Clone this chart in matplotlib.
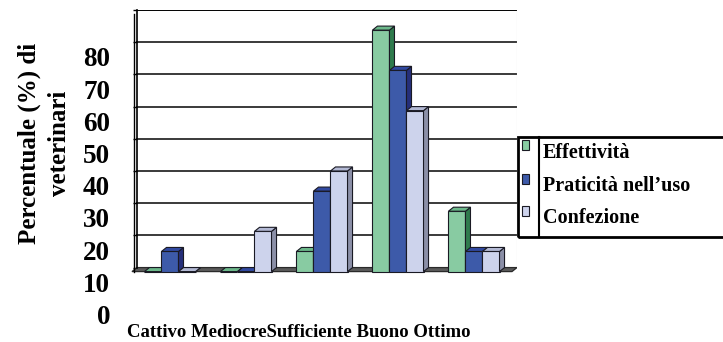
import matplotlib
matplotlib.use('Agg')
import matplotlib.pyplot as plt
from matplotlib.patches import Polygon, Rectangle
from matplotlib.lines import Line2D
from matplotlib.transforms import ScaledTranslation

# ---- data ----
categories = ['Cattivo', 'Mediocre', 'Sufficiente', 'Buono', 'Ottimo']
category_separators = [' ', '', ' ', ' ']   # as printed under the chart
series_names = ['Effettività', 'Praticità nell’uso', 'Confezione']
effettivita = [0, 0, 6.25, 75, 18.75]
praticita = [6.25, 0, 25, 62.5, 6.25]
confezione = [0, 12.5, 31.25, 50, 6.25]
y_ticks = [0, 10, 20, 30, 40, 50, 60, 70, 80]
y_label = 'Percentuale (%) di\nveterinari'

# ---- style ----
plt.rcParams['font.family'] = ['Liberation Serif', 'DejaVu Serif']
plt.rcParams['font.weight'] = 'bold'

W, H = 723, 342
fig = plt.figure(figsize=(W / 100, H / 100), dpi=100)
ax = fig.add_axes([129.4 / W, (H - 274.0) / H, 387.6 / W, 264.0 / H])
ax.set_xlim(-0.6, 4.5)
ax.set_ylim(-2, 80)

front = ['#88cba2', '#3d5aa9', '#cdd3ec']
side = ['#2f7b4d', '#262f7a', '#8b8fa7']
topc = ['#6cb88a', '#3149a0', '#b3b9d4']
edge = '#1a1a24'
dx, dy = 0.066, 1.25
w = 0.224

# back wall gridlines
for t in y_ticks[1:-1]:
    ax.plot([-0.5, 4.5], [t, t], color='#3a3a3a', lw=1.4, zorder=1)
ax.plot([-0.5, 4.5], [y_ticks[-1]] * 2, color='black', lw=1.4, zorder=1)
ax.plot([4.5, 4.5], [0, y_ticks[-1]], color='#cccccc', lw=0.8, zorder=1)

# floor slab
ax.add_patch(Polygon([(-0.5, 0), (4.5, 0), (4.5 - dx, -dy), (-0.5 - dx, -dy)],
                     closed=True, fc='#5a5a5a', ec='#2a2a2a', lw=0.9, zorder=2))

# left wall (double line)
ax.plot([-0.5 - 0.045] * 2, [-dy, y_ticks[-1] - dy], color='black', lw=1.0, zorder=2)

# bars
series = [effettivita, praticita, confezione]
z = 3
for i in range(len(categories)):
    for k, vals in enumerate(series):
        v = vals[i]
        xb = i - 1.5 * w + k * w
        xf = xb - dx
        ax.bar([xf], [v], width=w, bottom=-dy, align='edge', color=front[k],
               edgecolor=edge, linewidth=0.8, zorder=z)
        ax.add_patch(Polygon([(xf + w, -dy), (xb + w, 0), (xb + w, v), (xf + w, v - dy)],
                             closed=True, fc=side[k], ec=edge, lw=0.8, zorder=z))
        ax.add_patch(Polygon([(xf, v - dy), (xb, v), (xb + w, v), (xf + w, v - dy)],
                             closed=True, fc=topc[k], ec=edge, lw=0.8, zorder=z))
        z += 1

# axes styling
for s in ['top', 'right', 'bottom']:
    ax.spines[s].set_visible(False)
ax.spines['left'].set_position(('data', -0.5))
ax.spines['left'].set_bounds(0, y_ticks[-1])
ax.spines['left'].set_linewidth(1.2)
ax.set_xticks([])
ax.set_yticks(y_ticks)
ax.set_yticklabels([str(t) for t in y_ticks])
ax.tick_params(axis='y', direction='out', length=3, width=1, pad=16.4, labelsize=19.5)
off = ScaledTranslation(0, -47 / 100, fig.dpi_scale_trans)
for tk in ax.yaxis.get_major_ticks():
    tk.label1.set_transform(tk.label1.get_transform() + off)
    tk.label1.set_fontweight('bold')

# category labels (printed as one run of text)
cat_text = categories[0]
for sep, c in zip(category_separators, categories[1:]):
    cat_text += sep + c
fig.text(127 / W, 1 - 337 / H, cat_text, ha='left', va='baseline',
         fontsize=13.5, fontweight='bold')

# y label
fig.text(44 / W, 1 - 143 / H, y_label, rotation=90, ha='center', va='center',
         ma='center', fontsize=18, fontweight='bold', linespacing=1.4)

# legend (drawn manually)
fig.patches.append(Rectangle((518 / W, 1 - 237 / H), 210 / W, 100 / H,
                             transform=fig.transFigure, fill=False, ec='black', lw=2))
fig.add_artist(Line2D([539 / W] * 2, [1 - 137 / H, 1 - 237 / H], color='black', lw=1.5,
                      transform=fig.transFigure))
baselines = [158, 191, 223]
mark_bottoms = [150, 184, 216]
for k, name in enumerate(series_names):
    fig.patches.append(Rectangle((522 / W, 1 - mark_bottoms[k] / H), 7 / W, 10 / H,
                                 transform=fig.transFigure, fc=front[k], ec=edge, lw=0.8))
    fig.text(543 / W, 1 - baselines[k] / H, name, ha='left', va='baseline',
             fontsize=14.5, fontweight='bold')

fig.savefig('out.png', dpi=100)
